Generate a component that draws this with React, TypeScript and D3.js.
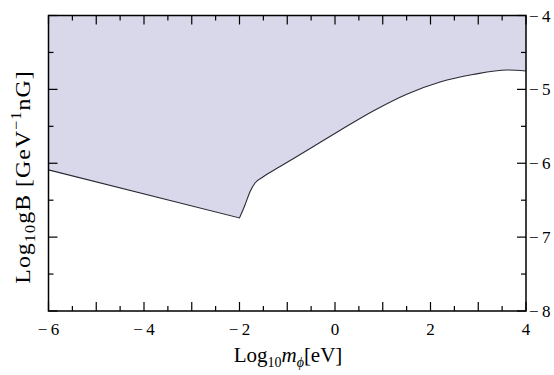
import React, { useRef, useEffect } from 'react';
import * as d3 from 'd3';

// boundary of the excluded region: log10 m (eV) vs log10 gB
const leftX = [-6, -2];
const leftY = [-6.09, -6.74];
const rightX = [-2, -1.885, -1.78, -1.675, -1.51, -1.15, -0.59, 0.1, 0.8, 1.49, 2.2, 2.89, 3.6, 4];
const rightY = [-6.74, -6.565, -6.385, -6.267, -6.186, -6.044, -5.827, -5.557, -5.293, -5.069, -4.9, -4.799, -4.738, -4.751];
const xTickLabels = [-6, -4, -2, 0, 2, 4];
const yTickLabels = [-4, -5, -6, -7, -8];

const W = 554, H = 375;
const FONT = "'Liberation Serif', 'Times New Roman', serif";

const App = () => {
    const svgRef = useRef<SVGSVGElement | null>(null);

    useEffect(() => {
        if (!svgRef.current) return;
        const svg = d3.select(svgRef.current);
        svg.selectAll('*').remove();

        const left = 48.5, right = 526, top = 15.5, bottom = 311;
        const x = d3.scaleLinear().domain([-6, 4]).range([left, right]);
        const y = d3.scaleLinear().domain([-8, -4]).range([bottom, top]);

        const lin = d3.line<number>().x((_, i) => x(leftX[i])).y(d => y(d)).curve(d3.curveLinear);
        const smooth = d3.line<number>().x((_, i) => x(rightX[i])).y(d => y(d)).curve(d3.curveMonotoneX);
        const lp = lin(leftY) || '';
        const rp = smooth(rightY) || '';
        const boundary = lp + 'L' + rp.slice(1);

        // shaded region
        svg.append('path')
            .attr('d', `M${left},${top}L` + boundary.slice(1) + `L${right},${top}Z`)
            .attr('fill', '#d9d8ea');

        svg.append('path')
            .attr('d', boundary)
            .attr('fill', 'none')
            .attr('stroke', '#2a2a35')
            .attr('stroke-width', 1.1);

        // ticks, inside on every side
        const tickG = svg.append('g').attr('stroke', '#000').attr('stroke-width', 1.2);
        d3.range(-6, 4.01, 0.5).forEach(v => {
            const len = Number.isInteger(v) ? 9 : 5;
            tickG.append('line').attr('x1', x(v)).attr('x2', x(v)).attr('y1', bottom).attr('y2', bottom - len);
            tickG.append('line').attr('x1', x(v)).attr('x2', x(v)).attr('y1', top).attr('y2', top + len);
        });
        d3.range(-8, -3.99, 0.5).forEach(v => {
            const len = Number.isInteger(v) ? 9 : 5;
            tickG.append('line').attr('x1', left).attr('x2', left + len).attr('y1', y(v)).attr('y2', y(v));
            tickG.append('line').attr('x1', right).attr('x2', right - len).attr('y1', y(v)).attr('y2', y(v));
        });

        // frame
        svg.append('rect')
            .attr('x', left).attr('y', top)
            .attr('width', right - left).attr('height', bottom - top)
            .attr('fill', 'none').attr('stroke', '#000').attr('stroke-width', 1.5);

        const fmt = (v: number) => (v < 0 ? '\u2212\u2009' + Math.abs(v) : String(v));

        svg.append('g').selectAll('text').data(xTickLabels).enter().append('text')
            .attr('x', d => x(d)).attr('y', bottom + 24)
            .attr('text-anchor', 'middle')
            .attr('font-family', FONT).attr('font-size', 17)
            .text(d => fmt(d));

        svg.append('g').selectAll('text').data(yTickLabels).enter().append('text')
            .attr('x', right + 3).attr('y', d => y(d) + 6)
            .attr('font-family', FONT).attr('font-size', 17)
            .text(d => fmt(d));

        // x title
        const xt = svg.append('text')
            .attr('x', 288).attr('y', 362)
            .attr('text-anchor', 'middle')
            .attr('font-family', FONT).attr('font-size', 21);
        xt.append('tspan').text('Log');
        xt.append('tspan').attr('font-size', 14).attr('dy', 5).text('10');
        xt.append('tspan').attr('font-style', 'italic').attr('dy', -5).text('m');
        xt.append('tspan').attr('font-style', 'italic').attr('font-size', 14).attr('dy', 5).text('\u03d5');
        xt.append('tspan').attr('dy', -5).text('[eV]');

        // y title, slightly stretched along its length as in the source
        const yt = svg.append('text')
            .attr('transform', 'translate(30,177) rotate(-90) scale(1.08,1)')
            .attr('text-anchor', 'middle')
            .attr('letter-spacing', 1)
            .attr('font-family', FONT).attr('font-size', 22);
        yt.append('tspan').text('Log');
        yt.append('tspan').attr('font-size', 15).attr('dy', 5).text('10');
        yt.append('tspan').attr('dy', -5).text('gB [GeV');
        yt.append('tspan').attr('font-size', 15).attr('dy', -9).text('\u22121');
        yt.append('tspan').attr('dy', 9).text('nG]');
    }, []);

    return (
        <svg ref={svgRef} width={W} height={H} style={{ display: 'block', position: 'absolute', left: 0, top: 0 }} />
    );
};

export default App;
